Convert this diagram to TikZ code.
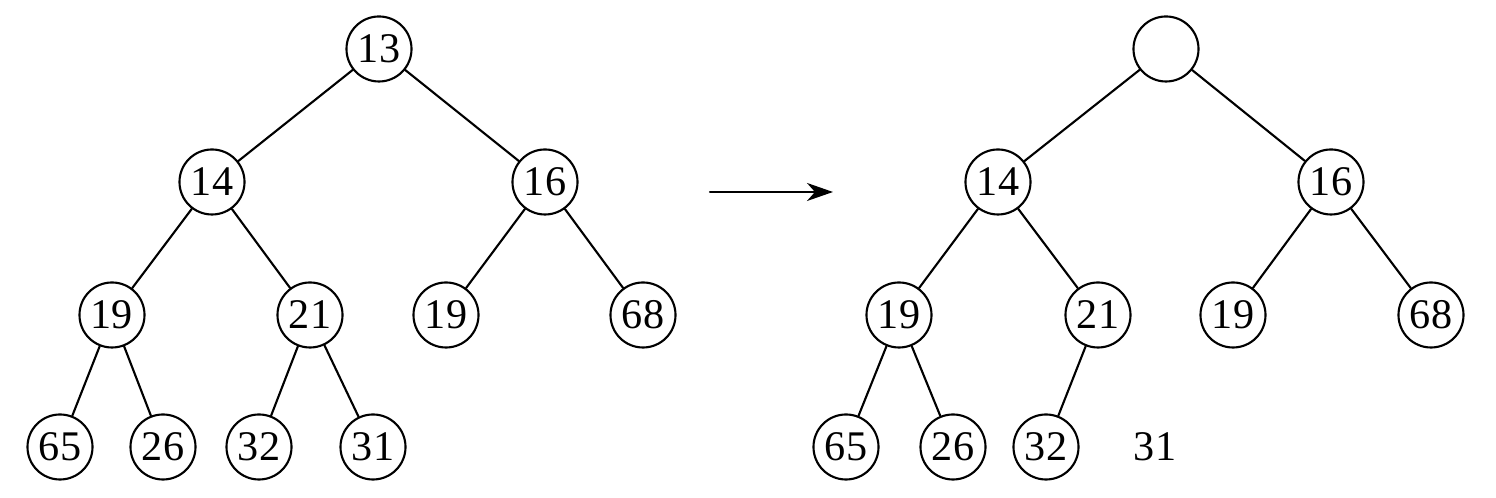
\documentclass[tikz,border=0pt]{standalone}
\usepackage{fontspec}
\setmainfont{Liberation Serif}
\usetikzlibrary{arrows.meta}

\tikzset{
  vtx/.style={circle,draw,line width=0.6pt,minimum size=0.65cm,inner sep=0pt,font=\fontsize{12}{14}\selectfont},
  bare/.style={inner sep=0pt,font=\fontsize{12}{14}\selectfont},
  edge/.style={line width=0.6pt}
}

\begin{document}
\begin{tikzpicture}[line cap=round,line join=round,x=0.01cm,y=-0.01cm]
                \useasboundingbox (0,0) rectangle (1496,498);
                % tree before
                \node[vtx] (a13) at (379,49) {13};
                \node[vtx] (a14) at (212,182) {14};
                \node[vtx] (a16) at (545,182) {16};
                \node[vtx] (a19) at (112,315) {19};
                \node[vtx] (a21) at (310,315) {21};
                \node[vtx] (a19b) at (446,315) {19};
                \node[vtx] (a68) at (643,315) {68};
                \node[vtx] (a65) at (60,447) {65};
                \node[vtx] (a26) at (163,447) {26};
                \node[vtx] (a32) at (259,447) {32};
                \node[vtx] (a31) at (373,447) {31};
                \draw [edge] (a13) -- (a14);
                \draw [edge] (a13) -- (a16);
                \draw [edge] (a14) -- (a19);
                \draw [edge] (a14) -- (a21);
                \draw [edge] (a16) -- (a19b);
                \draw [edge] (a16) -- (a68);
                \draw [edge] (a19) -- (a65);
                \draw [edge] (a19) -- (a26);
                \draw [edge] (a21) -- (a32);
                \draw [edge] (a21) -- (a31);
                % arrow
                \coordinate (arrS) at (710,192);
                \coordinate (arrE) at (833,192);
                \draw [edge,-{Stealth[length=2.6mm,width=1.8mm,inset=0.8mm]}] (arrS) -- (arrE);
                % tree after
                \node[vtx] (b0) at (1166,49) {};
                \node[vtx] (b14) at (998,182) {14};
                \node[vtx] (b16) at (1331,182) {16};
                \node[vtx] (b19) at (899,315) {19};
                \node[vtx] (b21) at (1098,315) {21};
                \node[vtx] (b19b) at (1233,315) {19};
                \node[vtx] (b68) at (1431,315) {68};
                \node[vtx] (b65) at (846,447) {65};
                \node[vtx] (b26) at (953,447) {26};
                \node[vtx] (b32) at (1046,447) {32};
                \node[bare] (b31) at (1155,447) {31};
                \draw [edge] (b0) -- (b14);
                \draw [edge] (b0) -- (b16);
                \draw [edge] (b14) -- (b19);
                \draw [edge] (b14) -- (b21);
                \draw [edge] (b16) -- (b19b);
                \draw [edge] (b16) -- (b68);
                \draw [edge] (b19) -- (b65);
                \draw [edge] (b19) -- (b26);
                \draw [edge] (b21) -- (b32);
\end{tikzpicture}
\end{document}
